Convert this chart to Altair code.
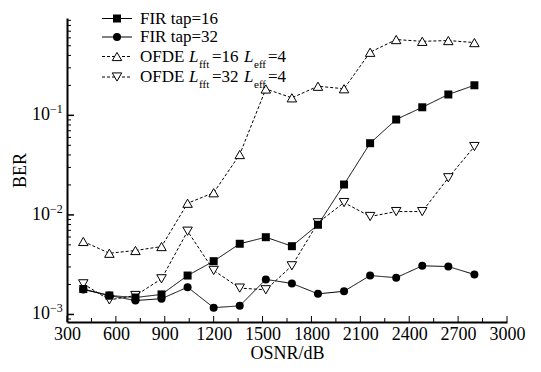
import altair as alt
import pandas as pd

FONT = "Liberation Serif"

osnr = [400, 560, 720, 880, 1040, 1200, 1360, 1520, 1680, 1840, 2000, 2160, 2320, 2480, 2640, 2800]
fir16 = [1.80e-3, 1.55e-3, 1.48e-3, 1.59e-3, 2.46e-3, 3.43e-3, 5.13e-3, 5.97e-3, 4.85e-3, 7.96e-3,
         2.02e-2, 5.25e-2, 9.08e-2, 0.1205, 0.162, 0.2005]
fir32 = [1.78e-3, 1.55e-3, 1.38e-3, 1.44e-3, 1.88e-3, 1.17e-3, 1.22e-3, 2.25e-3, 2.05e-3, 1.61e-3,
         1.71e-3, 2.46e-3, 2.34e-3, 3.08e-3, 3.03e-3, 2.52e-3]
ofde16 = [5.41e-3, 4.12e-3, 4.39e-3, 4.81e-3, 1.31e-2, 1.67e-2, 4.04e-2, 0.184, 0.150, 0.196,
          0.185, 0.430, 0.577, 0.554, 0.564, 0.538]
ofde32 = [2.03e-3, 1.40e-3, 1.55e-3, 2.28e-3, 6.86e-3, 2.77e-3, 1.84e-3, 1.77e-3, 3.08e-3, 8.33e-3,
          1.33e-2, 9.64e-3, 1.08e-2, 1.08e-2, 2.36e-2, 4.86e-2]

x_major = [300, 600, 900, 1200, 1500, 1800, 2100, 2400, 2700, 3000]
x_minor = [450, 750, 1050, 1350, 1650, 1950, 2250, 2550, 2850]
y_major = [0.001, 0.01, 0.1]
y_exp = ["\u22123", "\u22122", "\u22121"]
y_minor = [k * 10.0 ** d for d in (-4, -3, -2, -1) for k in range(2, 10)
           if 0.00084 <= k * 10.0 ** d <= 0.95]

W, H = 440, 304
xs = alt.Scale(domain=[300, 3000], nice=False, zero=False)
ys = alt.Scale(type="log", domain=[0.00084, 0.95], nice=False)

one = pd.DataFrame({"a": [0]})


def series(vals, shape, filled, dashed):
    df = pd.DataFrame({"osnr": osnr, "ber": vals})
    base = alt.Chart(df)
    line = base.mark_line(color="black", strokeWidth=1, strokeDash=[3, 2] if dashed else [1, 0]).encode(
        x=alt.X("osnr:Q", scale=xs,
                axis=alt.Axis(values=x_major, format="d", ticks=False, grid=False, domainWidth=2,
                              domainColor="black",
                              labelFont=FONT, labelFontSize=18, labelColor="black", labelPadding=3,
                              title="OSNR/dB", titleFont=FONT, titleFontSize=18, titleFontWeight="normal",
                              titleColor="black", titlePadding=1, labelFlush=False)),
        y=alt.Y("ber:Q", scale=ys,
                axis=alt.Axis(labels=False, ticks=False, grid=False, domainWidth=2, domainColor="black",
                              title="BER", titleFont=FONT, titleFontSize=18, titleFontWeight="normal",
                              titleColor="black", titlePadding=38)),
    )
    if filled:
        pt = base.mark_point(shape=shape, filled=True, color="black", size=64, opacity=1)
    else:
        pt = base.mark_point(shape=shape, filled=True, fill="white", stroke="black", strokeWidth=1,
                             size=90, opacity=1)
    pt = pt.encode(x=alt.X("osnr:Q", scale=xs), y=alt.Y("ber:Q", scale=ys))
    return [line, pt]


layers = []
layers += series(ofde16, "triangle-up", False, True)
layers += series(ofde32, "triangle-down", False, True)
layers += series(fir16, "square", True, False)
layers += series(fir32, "circle", True, False)

# inward ticks
xmaj = alt.Chart(pd.DataFrame({"osnr": x_major})).mark_rule(color="black", strokeWidth=1).encode(
    x=alt.X("osnr:Q", scale=xs), y=alt.value(H), y2=alt.value(H - 6))
xmin = alt.Chart(pd.DataFrame({"osnr": x_minor})).mark_rule(color="black", strokeWidth=1).encode(
    x=alt.X("osnr:Q", scale=xs), y=alt.value(H), y2=alt.value(H - 4))
ymaj = alt.Chart(pd.DataFrame({"ber": y_major})).mark_rule(color="black", strokeWidth=1.5).encode(
    y=alt.Y("ber:Q", scale=ys), x=alt.value(0), x2=alt.value(7))
ymin = alt.Chart(pd.DataFrame({"ber": y_minor})).mark_rule(color="black", strokeWidth=1).encode(
    y=alt.Y("ber:Q", scale=ys), x=alt.value(0), x2=alt.value(4))
layers += [xmaj, xmin, ymaj, ymin]

# y tick labels 10^n
ylab = pd.DataFrame({"ber": y_major, "e": y_exp})
ten = alt.Chart(ylab).mark_text(text="10", align="right", baseline="middle", font=FONT, fontSize=18,
                                color="black").encode(y=alt.Y("ber:Q", scale=ys), x=alt.value(-17))
sup = alt.Chart(ylab).mark_text(align="left", baseline="middle", font=FONT, fontSize=12, dy=-6,
                                color="black").encode(y=alt.Y("ber:Q", scale=ys), x=alt.value(-17),
                                                      text="e:N")
layers += [ten, sup]


def vtext(s, x, y, size=17, style="normal"):
    return alt.Chart(one).mark_text(text=s, align="left", baseline="middle", font=FONT, fontSize=size,
                                    fontStyle=style, color="black").encode(x=alt.value(x), y=alt.value(y))


def lrule(y, dashed):
    return alt.Chart(one).mark_rule(color="black", strokeWidth=1,
                                    strokeDash=[3, 2] if dashed else [1, 0]).encode(
        x=alt.value(35), x2=alt.value(65), y=alt.value(y))


def lpt(y, shape, filled):
    if filled:
        m = alt.Chart(one).mark_point(shape=shape, filled=True, color="black", size=64, opacity=1)
    else:
        m = alt.Chart(one).mark_point(shape=shape, filled=True, fill="white", stroke="black",
                                      strokeWidth=1, size=90, opacity=1)
    return m.encode(x=alt.value(50), y=alt.value(y))


rows = [0.5, 19, 38.5, 59]
layers += [lrule(rows[0], False), lpt(rows[0], "square", True), vtext("FIR tap=16", 73, rows[0])]
layers += [lrule(rows[1], False), lpt(rows[1], "circle", True), vtext("FIR tap=32", 73, rows[1])]
for r, shape, num in [(rows[2], "triangle-up", "=16"), (rows[3], "triangle-down", "=32")]:
    layers += [lrule(r, True), lpt(r, shape, False),
               vtext("OFDE", 73, r),
               vtext("L", 122, r, style="italic"),
               vtext("fft", 132, r + 8, size=11),
               vtext(num, 145, r),
               vtext("L", 177, r, style="italic"),
               vtext("eff", 187, r + 8, size=11),
               vtext("=4", 201, r)]

chart = alt.layer(*layers).properties(
    width=W, height=H,
    autosize=alt.AutoSizeParams(type="none"),
    padding={"left": 59, "top": 10, "right": 26, "bottom": 42},
).configure_view(stroke=None)

chart.save("out.html", embed_options={"renderer": "svg", "actions": False})
